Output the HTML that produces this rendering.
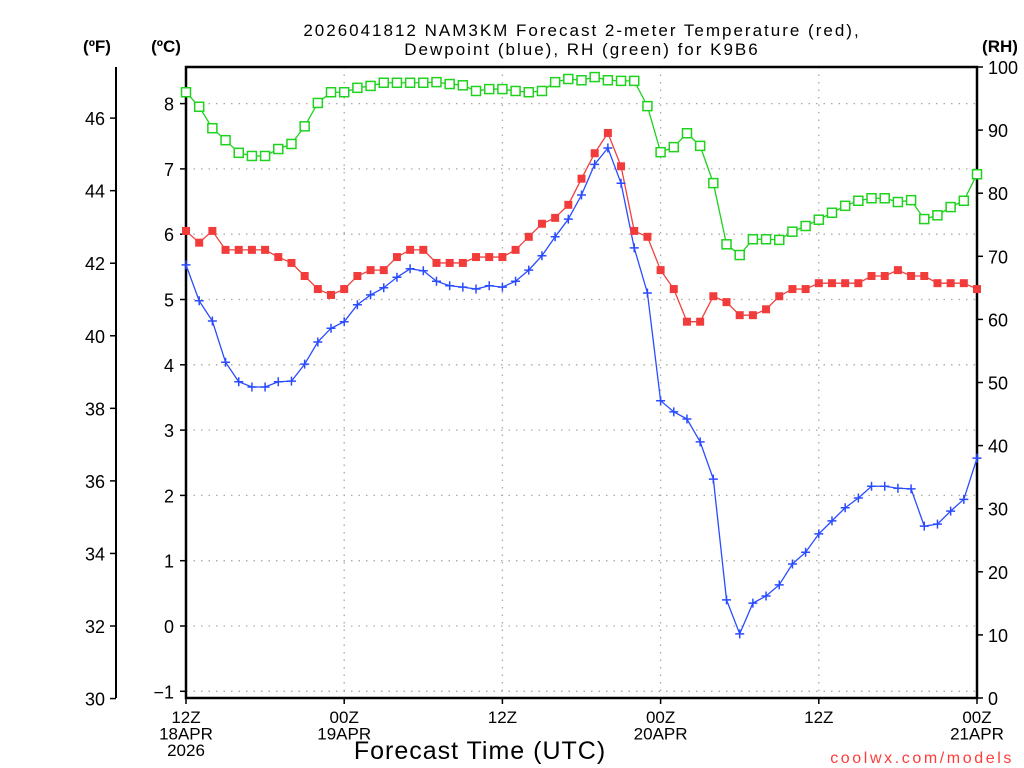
<!DOCTYPE html>
<html><head><meta charset="utf-8"><style>
html,body{margin:0;padding:0;background:#fff;}
svg{display:block;font-family:"Liberation Sans",sans-serif;}
</style></head><body>
<svg id="c" width="1024" height="768" viewBox="0 0 1024 768">
<g font-size="17" text-anchor="middle" fill="#000" letter-spacing="2">
<text x="582" y="36">2026041812 NAM3KM Forecast 2-meter Temperature (red),</text>
<text x="582" y="55">Dewpoint (blue), RH (green) for K9B6</text>
</g>
<text x="97" y="52" font-size="17" font-weight="bold" text-anchor="middle">(ºF)</text>
<text x="166" y="52" font-size="17" font-weight="bold" text-anchor="middle">(ºC)</text>
<text x="1000" y="52" font-size="17" font-weight="bold" text-anchor="middle">(RH)</text>
<text x="480" y="759" font-size="25" text-anchor="middle" letter-spacing="1">Forecast Time (UTC)</text>
<text x="1014" y="763" font-size="16" fill="#ff3b3b" text-anchor="end" letter-spacing="2.6">coolwx.com/models</text>
<g id="grid"></g><g id="axes"></g><g id="series"></g>
</svg>
<script>
const hours = [];
for (let i = 0; i <= 60; i++) hours.push(i);
const tempC = [6.05,5.87,6.05,5.76,5.76,5.76,5.76,5.65,5.56,5.36,5.16,5.07,5.16,5.36,5.45,5.45,5.65,5.76,5.76,5.56,5.56,5.56,5.65,5.65,5.65,5.76,5.96,6.16,6.25,6.45,6.85,7.24,7.55,7.04,6.05,5.96,5.45,5.16,4.66,4.66,5.05,4.96,4.76,4.76,4.85,5.05,5.16,5.16,5.25,5.25,5.25,5.25,5.36,5.36,5.45,5.36,5.36,5.25,5.25,5.25,5.16];
const dewC = [5.53,4.98,4.67,4.04,3.74,3.66,3.66,3.74,3.75,4.01,4.35,4.56,4.66,4.92,5.07,5.18,5.34,5.47,5.44,5.28,5.21,5.19,5.16,5.21,5.19,5.28,5.45,5.67,5.96,6.23,6.60,7.07,7.32,6.78,5.79,5.10,3.45,3.28,3.17,2.82,2.25,0.40,-0.12,0.35,0.46,0.63,0.95,1.13,1.41,1.61,1.81,1.96,2.14,2.14,2.11,2.10,1.53,1.56,1.76,1.94,2.57];
const rh = [96.0,93.7,90.3,88.4,86.4,85.9,85.9,87.0,87.8,90.6,94.3,96.0,96.0,96.7,97.0,97.5,97.5,97.5,97.5,97.6,97.3,97.1,96.2,96.5,96.5,96.2,96.0,96.2,97.6,98.1,97.9,98.4,97.9,97.8,97.8,93.8,86.5,87.3,89.5,87.5,81.6,71.9,70.2,72.7,72.7,72.6,73.9,74.8,75.8,76.9,78.0,78.8,79.2,79.2,78.6,78.9,75.9,76.5,77.8,78.8,83.0];
const cTicks = [-1,0,1,2,3,4,5,6,7,8];
const fTicks = [30,32,34,36,38,40,42,44,46];
const rhTicks = [0,10,20,30,40,50,60,70,80,90,100];
const xTickHours = [0,12,24,36,48,60];
const xTickLine1 = ["12Z","00Z","12Z","00Z","12Z","00Z"];
const xTickLine2 = ["18APR","19APR","","20APR","","21APR"];
const xTickLine3 = ["2026","","","","",""];

const X0=186, X1=977, Y0=698, Y1=67;
const xs = h => X0 + (h/60)*(X1-X0);
const yC = c => 626 - c*65.3;
const yF = f => yC((f-32)*5/9);
const yRH = r => Y0 - r*(Y0-Y1)/100;
const NS="http://www.w3.org/2000/svg";
function mk(parent, tag, attrs){const e=document.createElementNS(NS,tag);for(const k in attrs)e.setAttribute(k,attrs[k]);parent.appendChild(e);return e;}
const grid=document.getElementById('grid'), axes=document.getElementById('axes'), ser=document.getElementById('series');

cTicks.forEach(c=>{
  const y=yC(c);
  const g=mk(grid,'line',{x1:X0,x2:X1,y1:y,y2:y,stroke:'#aaa','stroke-width':1.3,'stroke-dasharray':'1.5 6'});
  
  
  mk(axes,'line',{x1:X0-6,x2:X0,y1:y,y2:y,stroke:'#000','stroke-width':1.5});
  const t=mk(axes,'text',{x:X0-12,y:y+7,'font-size':18,'text-anchor':'end'});
  t.textContent = c<0 ? '\u2212'+Math.abs(c) : c;
  
  
});
xTickHours.forEach((h,i)=>{
  const x=xs(h);
  if(i>0 && i<xTickHours.length-1){
    const g=mk(grid,'line',{x1:x,x2:x,y1:Y1,y2:Y0,stroke:'#aaa','stroke-width':1.3,'stroke-dasharray':'1.5 6'});
    
    
  }
  mk(axes,'line',{x1:x,x2:x,y1:Y0,y2:Y0+6,stroke:'#000','stroke-width':1.5});
  [xTickLine1[i],xTickLine2[i],xTickLine3[i]].forEach((s,j)=>{
    if(!s) return;
    const t=mk(axes,'text',{x:x,y:723+j*16.5,'font-size':17,'text-anchor':'middle'});
    t.textContent=s;
    
    
  });
});
mk(axes,'line',{x1:116,x2:116,y1:Y1,y2:Y0,stroke:'#000','stroke-width':2});
fTicks.forEach(f=>{
  const y=yF(f);
  mk(axes,'line',{x1:110,x2:116,y1:y,y2:y,stroke:'#000','stroke-width':1.5});
  const t=mk(axes,'text',{x:105,y:y+7,'font-size':18,'text-anchor':'end'});
  t.textContent=f;
  
  
});
rhTicks.forEach(r=>{
  const y=yRH(r);
  mk(axes,'line',{x1:X1,x2:X1+6,y1:y,y2:y,stroke:'#000','stroke-width':1.5});
  const t=mk(axes,'text',{x:988,y:y+7,'font-size':18,'text-anchor':'start'});
  t.textContent=r;
  
  
});
const fr=mk(axes,'rect',{x:X0,y:Y1,width:X1-X0,height:Y0-Y1,fill:'none',stroke:'#000','stroke-width':2.5});



function line(vals, yf, color, name){
  const p=mk(ser,'polyline',{points:vals.map((v,i)=>xs(hours[i])+','+yf(v)).join(' '),fill:'none',stroke:color,'stroke-width':1.3});
  
  
}
line(rh,yRH,'#1ed21e','rh-line');
line(tempC,yC,'#f04040','temperature-line');
line(dewC,yC,'#2a4cff','dewpoint-line');
rh.forEach((v,i)=>{
  const m=mk(ser,'rect',{x:xs(hours[i])-4.5,y:yRH(v)-4.5,width:9,height:9,fill:'#fff',stroke:'#1ed21e','stroke-width':1.5});
  
  
});
tempC.forEach((v,i)=>{
  const m=mk(ser,'rect',{x:xs(hours[i])-4,y:yC(v)-4,width:8,height:8,fill:'#f23c3c'});
  
  
});
dewC.forEach((v,i)=>{
  const x=xs(hours[i]), y=yC(v);
  const m=mk(ser,'path',{d:`M${x-4.5},${y}H${x+4.5}M${x},${y-4.5}V${y+4.5}`,stroke:'#2a4cff','stroke-width':1.5});
  
  
});
</script>
</body></html>
